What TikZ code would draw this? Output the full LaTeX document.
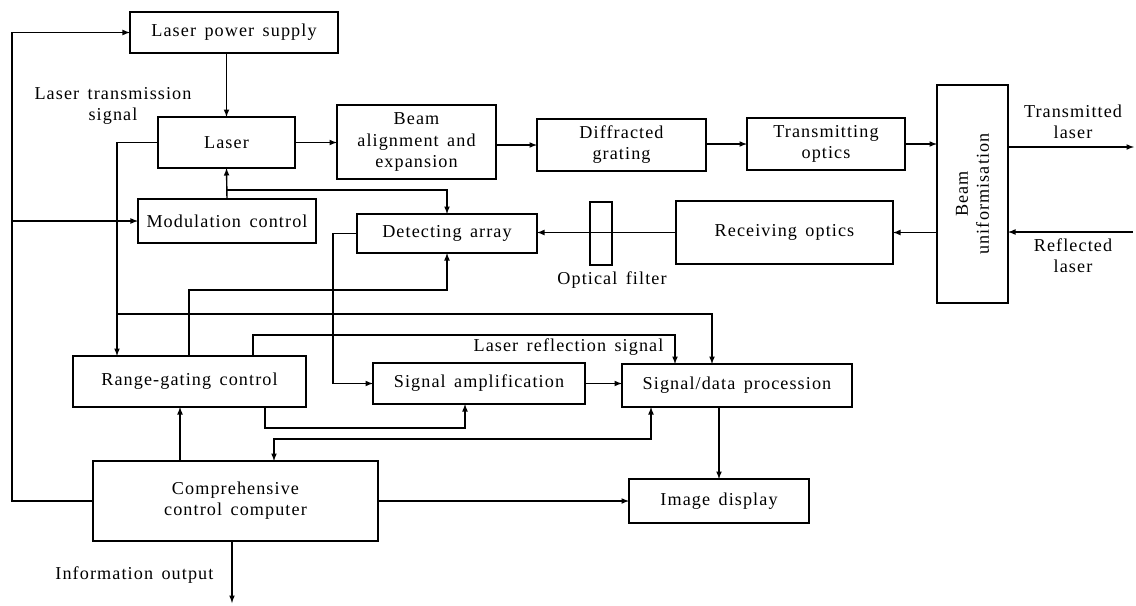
\documentclass[tikz,border=0pt]{standalone}
\usepackage{fontspec}
\setmainfont{Liberation Serif}[LetterSpace=6,WordSpace=1.5]
\usepackage{tikz}

\begin{document}
\begin{tikzpicture}[x=0.03cm, y=-0.03cm, >=latex, line width=1.2pt,
  every node/.style={font=\fontsize{15.5}{18}\selectfont},
  main node/.style={draw, line width=1.3pt, inner sep=0pt, outer sep=0pt, align=center}]
\useasboundingbox (0,0) rectangle (1136,605);
\node[main node, minimum width=6.24cm, minimum height=1.23cm] (pwr) at (234,32.5) {Laser power supply};
\node[main node, minimum width=4.11cm, minimum height=1.53cm] (laser) at (226.5,142.5) {Laser};
\node[main node, minimum width=4.77cm, minimum height=2.22cm] (beam) at (416.5,142) {Beam\\alignment and\\expansion};
\node[main node, minimum width=5.07cm, minimum height=1.56cm] (grating) at (621.5,145) {Diffracted\\grating};
\node[main node, minimum width=4.74cm, minimum height=1.56cm] (tx) at (826,144) {Transmitting\\optics};
\node[main node, rotate=90, minimum width=6.54cm, minimum height=2.13cm] (unif) at (972.5,194) {Beam\\uniformisation};
\node[main node, minimum width=5.34cm, minimum height=1.32cm] (mod) at (227,221) {Modulation control};
\node[main node, minimum width=5.4cm, minimum height=1.17cm] (det) at (447,233.5) {Detecting array};
\node[main node, minimum width=0.66cm, minimum height=1.89cm] (filter) at (601,233.5) {};
\node[main node, minimum width=6.51cm, minimum height=1.89cm] (rx) at (784.5,232.5) {Receiving optics};
\node[main node, minimum width=6.99cm, minimum height=1.53cm] (range) at (189.5,381.5) {Range-gating control};
\node[main node, minimum width=6.36cm, minimum height=1.23cm] (amp) at (479,383.5) {Signal amplification};
\node[main node, minimum width=6.9cm, minimum height=1.29cm] (proc) at (737,385.5) {Signal/data procession};
\node[main node, minimum width=8.55cm, minimum height=2.4cm] (comp) at (235.5,501) {Comprehensive\\control computer};
\node[main node, minimum width=5.4cm, minimum height=1.32cm] (disp) at (719,501) {Image display};

\node[align=center] (lts) at (113,106) {Laser transmission\\signal};
\node (ofl) at (612,280) {Optical filter};
\node[align=center] (tl) at (1073,122) {Transmitted\\laser};
\node[align=center] (rl) at (1073,256) {Reflected\\laser};
\node[anchor=east] (lrs) at (668,347) {Laser reflection signal};
\node[anchor=east] (io) at (218,575) {Information output};

\coordinate (busj) at (12,221);
\coordinate (mj) at (226.5,190);
\coordinate (lt) at (117,314);
\coordinate (c1) at (712,314);
\coordinate (c2) at (189,290);
\coordinate (c3) at (253,335);
\coordinate (c4) at (675,335);
\coordinate (c6) at (265,428);
\coordinate (c7) at (465,428);
\coordinate (c8) at (274,439);
\coordinate (c9) at (651,439);
\coordinate (c10) at (180,470);
\coordinate (txout) at (1134,147);
\coordinate (rxin) at (1133,232);
\coordinate (out) at (232,603);

\draw[->] (comp.west) -- ++(-81,0) |- (pwr.west);
\draw[->] (busj) -- (mod.west);
\draw[->] (pwr.south -| laser.north) -- (laser.north);
\draw[->] (mod.north) -- (laser.south);
\draw[->] (mj) -| (det.north);
\draw[->] (laser.east) -- (laser.east -| beam.west);
\draw[->] (beam.east |- grating.west) -- (grating.west);
\draw[->] (grating.east |- tx.west) -- (tx.west);
\draw[->] (tx.east) -- (tx.east -| unif.north);
\draw[->] (unif.south |- txout) -- (txout);
\draw[->] (rxin) -- (rxin -| unif.south);
\draw[->] (rx.east -| unif.north) -- (rx.east);
\draw[->] (rx.west) -- (rx.west -| det.east);
\draw[->] (laser.west) -| (lt |- range.north);
\draw[->] (lt) -| (c1 |- proc.north);
\draw[->] (c2 |- range.north) -- (c2) -| (det.south);
\draw[->] (c3 |- range.north) -- (c3) -- (c4) -- (c4 |- proc.north);
\draw[->] (det.west) -- ++(-24,0) |- (amp.west);
\draw[->] (c6 |- range.south) -- (c6) -- (c7) -- (c7 |- amp.south);
\draw[->] (amp.east) -- (amp.east -| proc.west);
\draw[->] (proc.south -| disp.north) -- (disp.north);
\draw[<->] (c8 |- comp.north) -- (c8) -- (c9) -- (c9 |- proc.south);
\draw[->] (c10 |- comp.north) -- (c10 |- range.south);
\draw[->] (comp.east) -- (disp.west);
\draw[->] (comp.south -| out) -- (out);
\end{tikzpicture}
\end{document}
